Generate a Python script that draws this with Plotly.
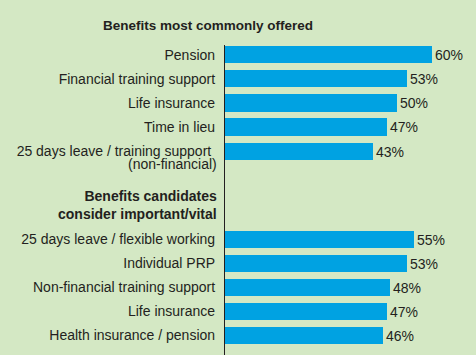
import plotly.graph_objects as go

# ---- data ----
cats1 = ["Pension", "Financial training support", "Life insurance", "Time in lieu",
         "25 days leave / training support\u00a0"]
cats1_sub = ["", "", "", "", "(non-financial)"]
vals1 = [60, 53, 50, 47, 43]

cats2 = ["25 days leave / flexible working", "Individual PRP",
         "Non-financial training support", "Life insurance", "Health insurance / pension"]
vals2 = [55, 53, 48, 47, 46]

title1 = "Benefits most commonly offered"
title2 = "Benefits candidates<br>consider important/vital"

# ---- layout ----
W, H = 476, 355
ml, mt, mb = 225, 45, 0
xmax = 70
px_per_unit_x = 3.45
plot_w = xmax * px_per_unit_x
mr = W - ml - plot_w
plot_h = H - mt - mb
unit = 24.05  # px per row
g2_offset = 7.66
ytop = -0.41
ybot = ytop + plot_h / unit

pos1 = [i for i in range(len(cats1))]
pos2 = [g2_offset + i for i in range(len(cats2))]

bg = "#d4e8c4"
bar_color = "#00a2e2"
txt = "#231f20"
font_family = "Liberation Sans, Arial, sans-serif"

fig = go.Figure()
fig.add_trace(go.Bar(
    x=vals1 + vals2, y=pos1 + pos2, orientation="h",
    marker=dict(color=bar_color, line=dict(width=0)),
    width=0.71,
    text=[f"{v}%" for v in vals1 + vals2], textposition="outside",
    textfont=dict(size=14, color=txt, family=font_family),
    cliponaxis=False, hoverinfo="skip",
))

fig.update_layout(
    width=W, height=H,
    margin=dict(l=ml, r=mr, t=mt, b=mb, pad=0, autoexpand=False),
    paper_bgcolor=bg, plot_bgcolor=bg,
    showlegend=False,
    font=dict(family=font_family, color=txt, size=14),
    xaxis=dict(range=[0, xmax], visible=False, fixedrange=True, automargin=False),
    yaxis=dict(
        range=[ybot, ytop], tickmode="array",
        tickvals=pos1 + pos2, ticktext=cats1 + cats2,
        showgrid=False, zeroline=False, automargin=False, fixedrange=True,
        showline=True, linecolor=txt, linewidth=1.2,
        ticks="", ticklabelstandoff=6,
        tickfont=dict(size=14, color=txt, family=font_family),
    ),
    bargap=0,
)

annotations = [
    dict(text="<b>" + title1 + "</b>", xref="paper", yref="paper",
         x=(101 - ml) / plot_w, y=1 + (mt - 25) / plot_h,
         xanchor="left", yanchor="middle", showarrow=False,
         font=dict(size=13.5, color=txt, family=font_family)),
    dict(text="<b>" + title2 + "</b>", xref="x", yref="y",
         x=0, y=pos2[0] - 1.4, xanchor="right", yanchor="middle", align="right",
         xshift=-6, showarrow=False,
         font=dict(size=14, color=txt, family=font_family)),
]
for p, s in zip(pos1, cats1_sub):
    if s:
        annotations.append(dict(text=s, xref="x", yref="y", x=0, y=p,
                                xanchor="right", yanchor="middle", xshift=-6, yshift=-13,
                                showarrow=False,
                                font=dict(size=14, color=txt, family=font_family)))
fig.update_layout(annotations=annotations)

fig.write_html("out.html", config={"displayModeBar": False},
               post_script="document.body.style.margin='0';document.body.style.background='%s';" % bg)
